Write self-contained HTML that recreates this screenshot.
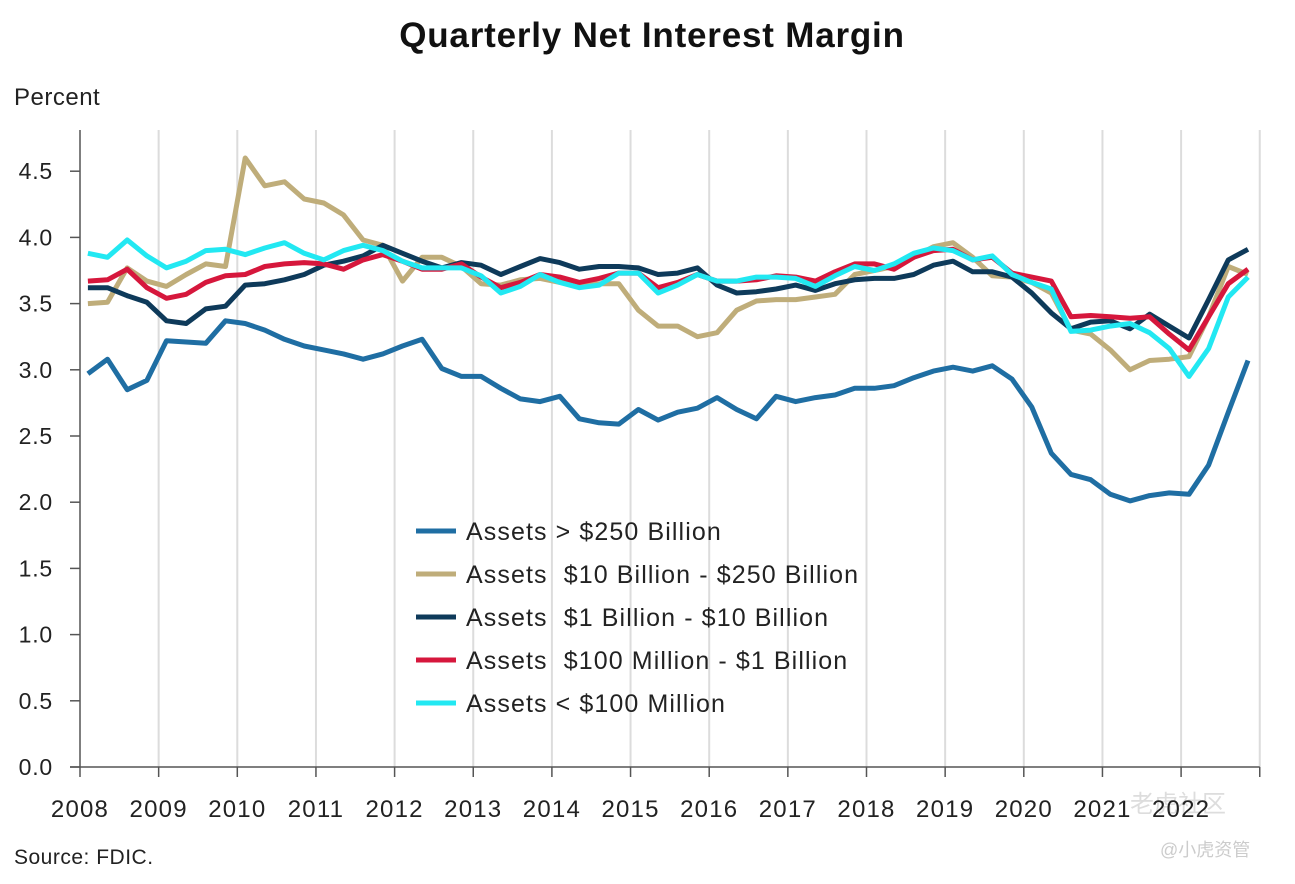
<!DOCTYPE html>
<html><head><meta charset="utf-8"><style>
body{margin:0;background:#fff;width:1295px;height:879px;overflow:hidden;font-family:"Liberation Sans","Noto Sans CJK SC",sans-serif;}
</style></head><body>
<svg id="chart" width="1295" height="879" xmlns="http://www.w3.org/2000/svg" font-family="Liberation Sans, Noto Sans CJK SC, sans-serif">
<text x="652" y="47" text-anchor="middle" font-size="35" font-weight="bold" fill="#111" letter-spacing="0.8">Quarterly Net Interest Margin</text>
<text x="14" y="105" font-size="24" fill="#222" letter-spacing="0.5">Percent</text>
<text x="14" y="864" font-size="21" fill="#222" letter-spacing="0.5">Source: FDIC.</text>
<text x="1130" y="812" font-size="24" fill="#ddd">老虎社区</text>
<text x="1160" y="856" font-size="18" fill="#ccc">@小虎资管</text>
<g id="grid"></g><g id="axes"></g><g id="lines"></g><g id="legend"></g>
</svg>
<script>
const years=[2008,2009,2010,2011,2012,2013,2014,2015,2016,2017,2018,2019,2020,2021,2022];
const yTicks=[0,0.5,1.0,1.5,2.0,2.5,3.0,3.5,4.0,4.5];
const seriesNames=["Assets > $250 Billion","Assets  $10 Billion - $250 Billion","Assets  $1 Billion - $10 Billion","Assets  $100 Million - $1 Billion","Assets < $100 Million"];
const seriesColors=["#1f6ea3","#bfad7a","#0e3a5a","#d6173c","#22e8f2"];
const large=[2.97,3.08,2.85,2.92,3.22,3.21,3.20,3.37,3.35,3.30,3.23,3.18,3.15,3.12,3.08,3.12,3.18,3.23,3.01,2.95,2.95,2.86,2.78,2.76,2.80,2.63,2.60,2.59,2.70,2.62,2.68,2.71,2.79,2.70,2.63,2.80,2.76,2.79,2.81,2.86,2.86,2.88,2.94,2.99,3.02,2.99,3.03,2.93,2.72,2.37,2.21,2.17,2.06,2.01,2.05,2.07,2.06,2.28,2.68,3.07];
const mid=[3.50,3.51,3.77,3.67,3.63,3.72,3.80,3.78,4.60,4.39,4.42,4.29,4.26,4.17,3.98,3.94,3.67,3.85,3.85,3.78,3.65,3.64,3.68,3.69,3.66,3.64,3.65,3.65,3.45,3.33,3.33,3.25,3.28,3.45,3.52,3.53,3.53,3.55,3.57,3.72,3.75,3.78,3.85,3.93,3.96,3.85,3.71,3.70,3.66,3.58,3.30,3.27,3.15,3.00,3.07,3.08,3.10,3.40,3.78,3.72];
const community=[3.62,3.62,3.56,3.51,3.37,3.35,3.46,3.48,3.64,3.65,3.68,3.72,3.79,3.82,3.86,3.94,3.88,3.82,3.77,3.81,3.79,3.72,3.78,3.84,3.81,3.76,3.78,3.78,3.77,3.72,3.73,3.77,3.64,3.58,3.59,3.61,3.64,3.60,3.65,3.68,3.69,3.69,3.72,3.79,3.82,3.74,3.74,3.70,3.58,3.43,3.31,3.36,3.37,3.31,3.42,3.33,3.24,3.53,3.83,3.91];
const small=[3.67,3.68,3.76,3.62,3.54,3.57,3.66,3.71,3.72,3.78,3.80,3.81,3.80,3.76,3.83,3.87,3.82,3.76,3.76,3.80,3.70,3.62,3.66,3.72,3.70,3.66,3.69,3.73,3.73,3.62,3.66,3.72,3.67,3.67,3.68,3.71,3.70,3.67,3.74,3.80,3.80,3.76,3.85,3.90,3.91,3.83,3.85,3.73,3.70,3.67,3.40,3.41,3.40,3.39,3.40,3.27,3.15,3.40,3.65,3.76];
const tiny=[3.88,3.85,3.98,3.86,3.77,3.82,3.90,3.91,3.87,3.92,3.96,3.88,3.83,3.90,3.94,3.90,3.82,3.77,3.77,3.77,3.71,3.58,3.63,3.72,3.66,3.62,3.64,3.73,3.73,3.58,3.64,3.72,3.67,3.67,3.70,3.70,3.69,3.63,3.71,3.78,3.75,3.80,3.88,3.92,3.90,3.83,3.86,3.72,3.66,3.61,3.29,3.30,3.33,3.35,3.28,3.16,2.95,3.16,3.55,3.70];
const allSeries=[large,mid,community,small,tiny];
const NS="http://www.w3.org/2000/svg";
const X0=80,YR=78.65,Y0=767,PER=132.4;
function xYear(y){return X0+(y-2008)*YR;}
function xQ(i){return xYear(2008+(i+0.4)/4);}
function yV(v){return Y0-v*PER;}
function mk(tag,attrs,parent){const e=document.createElementNS(NS,tag);for(const k in attrs)e.setAttribute(k,attrs[k]);parent.appendChild(e);return e;}
const grid=document.getElementById('grid'),axes=document.getElementById('axes'),lines=document.getElementById('lines'),legend=document.getElementById('legend');
for(let y=2009;y<=2023;y++){
  const g=mk('line',{x1:xYear(y),x2:xYear(y),y1:130,y2:Y0,stroke:'#dcdcdc','stroke-width':2},grid);
  
  
}
const ya=mk('line',{x1:X0,x2:X0,y1:130,y2:Y0,stroke:'#555','stroke-width':1.5},axes);


const xa=mk('line',{x1:70,x2:xYear(2023),y1:Y0,y2:Y0,stroke:'#555','stroke-width':1.5},axes);


yTicks.forEach(v=>{
  mk('line',{x1:70,x2:X0,y1:yV(v),y2:yV(v),stroke:'#555','stroke-width':1.5},axes);
  const t=mk('text',{x:53,y:yV(v)+8,'text-anchor':'end','font-size':23,fill:'#222','letter-spacing':0.8},axes);
  t.textContent=v.toFixed(1);
  
  
});
years.concat([2023]).forEach(y=>{
  mk('line',{x1:xYear(y),x2:xYear(y),y1:Y0,y2:Y0+10,stroke:'#555','stroke-width':1.5},axes);
});
years.forEach(y=>{
  const t=mk('text',{x:xYear(y),y:817,'text-anchor':'middle','font-size':24,fill:'#222','letter-spacing':1.2},axes);
  t.textContent=y;
  
  
});
allSeries.forEach((s,k)=>{
  const p=mk('polyline',{points:s.map((v,i)=>xQ(i).toFixed(1)+','+yV(v).toFixed(1)).join(' '),fill:'none',stroke:seriesColors[k],'stroke-width':5,'stroke-linejoin':'round'},lines);
  
  
});
seriesNames.forEach((n,k)=>{
  const y=531+k*43;
  const l=mk('line',{x1:416,x2:456,y1:y,y2:y,stroke:seriesColors[k],'stroke-width':5},legend);
  
  
  const t=mk('text',{x:466,y:y+9,'font-size':25,fill:'#222','letter-spacing':1.1},legend);
  t.style.whiteSpace='pre';
  t.textContent=n;
  
  
});
</script>
</body></html>
